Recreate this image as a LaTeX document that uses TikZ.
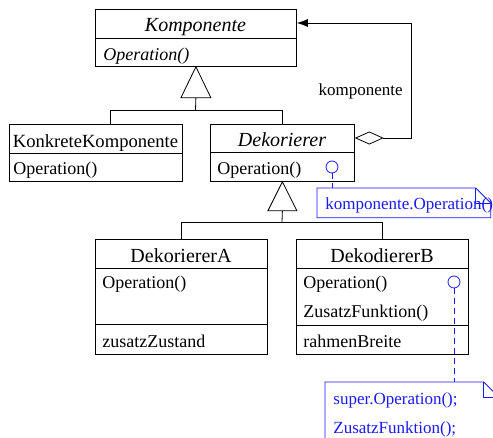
\documentclass[tikz,border=0pt]{standalone}
\usepackage{fontspec}
\setmainfont{Liberation Serif}
\usetikzlibrary{arrows.meta}
\definecolor{noteblue}{RGB}{25,25,250}

\begin{document}
\begin{tikzpicture}[x=1pt,y=-1pt,line width=0.8pt,
  classbox/.style={draw,rectangle,anchor=north west,inner sep=0pt},
  classname/.style={font=\fontsize{20}{24}\selectfont,inner sep=0pt,anchor=base},
  member/.style={font=\fontsize{18}{22}\selectfont,inner sep=0pt,anchor=base west},
  rolename/.style={font=\fontsize{17}{20}\selectfont,inner sep=0pt,anchor=base east},
  notetext/.style={font=\fontsize{17}{20}\selectfont,inner sep=0pt,anchor=base west,text=noteblue},
  notearea/.style={rectangle,inner sep=0pt,anchor=north west},
  hook/.style={draw=noteblue,circle,inner sep=0pt,minimum size=12pt},
  notelink/.style={draw=noteblue,dash pattern=on 6pt off 4pt},
  noteline/.style={draw=noteblue},
  genarrow/.style={fill=white}]

\useasboundingbox (0,0) rectangle (493,437);
\clip (0,0) rectangle (493,437);

% class boxes
\node[classbox,minimum width=201pt,minimum height=57pt] (komp) at (95,9) {};
\draw (komp.west |- 0,38) -- (komp.east |- 0,38);
\node[classname,font=\fontsize{20}{24}\selectfont\itshape] (kompname) at (195.5,31) {Komponente};
\node[member,font=\fontsize{18}{22}\selectfont\itshape] (kompop) at (103,60) {Operation()};

\node[classbox,minimum width=173pt,minimum height=57pt] (konk) at (9,124) {};
\draw (konk.west |- 0,153) -- (konk.east |- 0,153);
\node[classname,font=\fontsize{18.6}{22}\selectfont] (konkname) at (95.5,147) {KonkreteKomponente};
\node[member] (konkop) at (13,174) {Operation()};

\node[classbox,minimum width=144pt,minimum height=57pt] (dek) at (210,124) {};
\draw (dek.west |- 0,152) -- (dek.east |- 0,152);
\node[classname,font=\fontsize{20}{24}\selectfont\itshape] (dekname) at (282,146) {Dekorierer};
\node[member] (dekop) at (217,174) {Operation()};

\node[classbox,minimum width=172pt,minimum height=115pt] (deka) at (95,239) {};
\draw (deka.west |- 0,268) -- (deka.east |- 0,268);
\draw (deka.west |- 0,324) -- (deka.east |- 0,324);
\node[classname] (dekaname) at (181,262) {DekoriererA};
\node[member] (dekaop) at (102,288) {Operation()};
\node[member] (dekastate) at (102,347) {zusatzZustand};

\node[classbox,minimum width=172pt,minimum height=115pt] (dekb) at (296,239) {};
\draw (dekb.west |- 0,268) -- (dekb.east |- 0,268);
\draw (dekb.west |- 0,325) -- (dekb.east |- 0,325);
\node[classname] (dekbname) at (382,262) {DekodiererB};
\node[member] (dekbop) at (303,288) {Operation()};
\node[member] (dekbfn) at (303,317) {ZusatzFunktion()};
\node[member] (dekbstate) at (303,347) {rahmenBreite};

% generalization: Komponente
\coordinate (g1) at ([yshift=-31pt]komp.south);
\coordinate (bus1) at (195.5,110);
\draw (g1) -- (bus1);
\draw (bus1) -| ([xshift=14.5pt]konk.north);
\draw (bus1) -| (dek.north);
\draw[genarrow] (komp.south) -- ([xshift=-15pt,yshift=-31pt]komp.south)
  -- ([xshift=15pt,yshift=-31pt]komp.south) -- cycle;

% generalization: Dekorierer
\coordinate (g2) at ([yshift=-29pt]dek.south);
\coordinate (bus2) at (282,222);
\draw (g2) -- (bus2);
\draw (bus2) -| (deka.north);
\draw (bus2) -| (dekb.north);
\draw[genarrow] (dek.south) -- ([xshift=-14.5pt,yshift=-29pt]dek.south)
  -- ([xshift=14.5pt,yshift=-29pt]dek.south) -- cycle;

% aggregation Dekorierer -> Komponente
\coordinate (aggfrom) at (dek.east |- 0,138);
\coordinate (aggto) at (komp.east |- 0,23);
\coordinate (aggcorner) at (411,138);
\draw[{Diamond[open,length=29pt,width=13pt]}-{Latex[length=11pt,width=8pt]}]
  (aggfrom) -- (aggcorner) |- (aggto);
\node[rolename] (rolle) at (403,95) {komponente};

% note on Dekorierer::Operation()
\node[hook] (h1) at (332,167) {};
\node[notearea,minimum width=173pt,minimum height=29pt] (n1) at (317,188) {};
\draw[notelink] (h1.south) -- (h1.south |- n1.north);
\draw[noteline] (n1.north west) -- ([xshift=-15pt]n1.north east)
  -- ([yshift=-15pt]n1.north east) -- (n1.south east) -- (n1.south west) -- cycle;
\draw[noteline] ([xshift=-15pt]n1.north east) |- ([yshift=-15pt]n1.north east);
\node[notetext] (n1text) at (325,209) {komponente.Operation()};

% note on DekodiererB::Operation()
\node[hook] (h2) at (454,282) {};
\node[notearea,minimum width=173pt,minimum height=70pt] (n2) at (325,382) {};
\draw[notelink] (h2.south) -- (h2.south |- n2.north);
\draw[noteline] (n2.north west) -- ([xshift=-15pt]n2.north east)
  -- ([yshift=-15pt]n2.north east) -- (n2.south east) -- (n2.south west) -- cycle;
\draw[noteline] ([xshift=-15pt]n2.north east) |- ([yshift=-15pt]n2.north east);
\node[notetext] (n2line1) at (333,404) {super.Operation();};
\node[notetext] (n2line2) at (333,433) {ZusatzFunktion();};

\end{tikzpicture}
\end{document}
